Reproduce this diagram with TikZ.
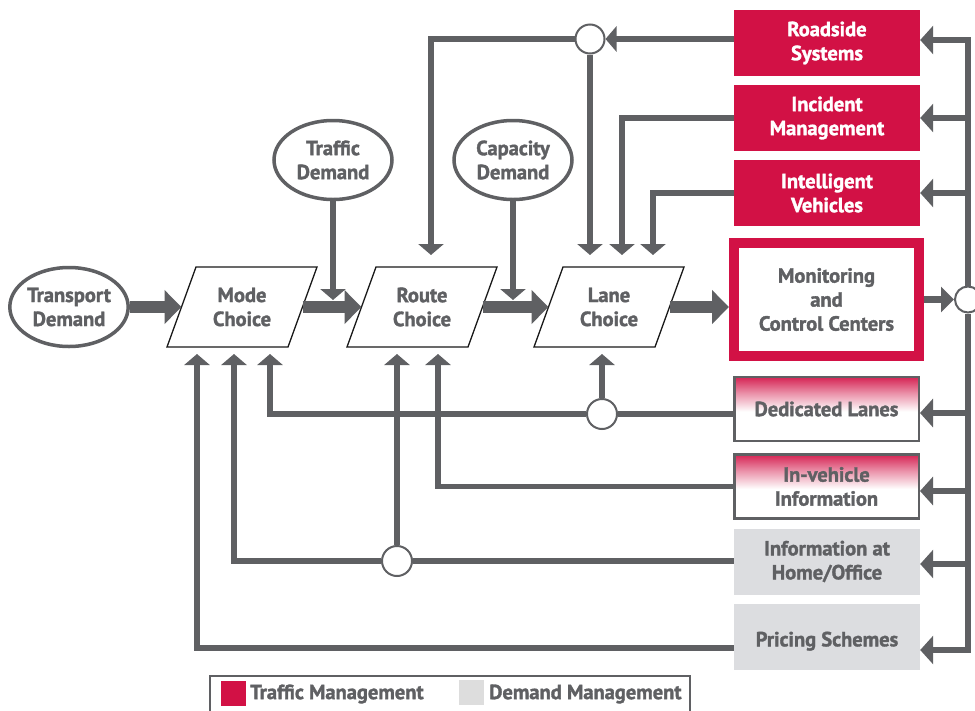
\documentclass[tikz,border=0pt]{standalone}
\usepackage{fontspec}
\setmainfont{PT Sans}[BoldFeatures={FakeBold=1.6}]
\usetikzlibrary{arrows.meta,calc,shapes.geometric}
\definecolor{gr}{RGB}{95,96,99}
\definecolor{tm}{RGB}{210,17,69}
\definecolor{dm}{RGB}{220,221,224}
\definecolor{lg}{RGB}{221,221,221}
\pgfdeclareverticalshading{tmfade}{100bp}{color(0bp)=(white); color(48bp)=(white); color(62bp)=(tm!45!white); color(75bp)=(tm!92!white); color(100bp)=(tm!92!white)}
\begin{document}
\begin{tikzpicture}[x=1pt,y=-1pt,
 lbl/.style={font=\fontsize{20.5}{24}\selectfont\bfseries, align=center, text=gr},
 redbox/.style={lbl, text=white, fill=tm, minimum width=186pt, minimum height=66pt, inner sep=0pt},
 dmbox/.style={lbl, fill=dm, minimum width=186pt, minimum height=66pt, inner sep=0pt},
 gradbox/.style={lbl, draw=gr, line width=2.5pt, fill=white, minimum width=184.5pt, minimum height=64pt, inner sep=0pt,
   path picture={\shade[shading=tmfade] (path picture bounding box.south west) rectangle (path picture bounding box.north east);}},
 oval/.style={lbl, ellipse, draw=gr, line width=3.5pt, minimum width=118pt, minimum height=79pt, inner sep=0pt},
 choice/.style={lbl, minimum width=121pt, minimum height=80pt, inner sep=0pt, outer sep=0pt},
 para/.style={draw=black!90, line width=1.3pt},
 junc/.style={circle, draw=gr, line width=2pt, fill=white, minimum size=30pt, inner sep=0pt},
 ln/.style={draw=gr, line width=5.5pt},
 conn/.style={draw=gr, line width=5.5pt, -{Triangle[length=11pt,width=25pt]}},
 busarr/.style={draw=gr, line width=6pt, -{Triangle[length=13pt,width=28pt]}},
 bigarr/.style={draw=gr, line width=12pt, -{Triangle[length=17pt,width=33pt]}},
]
\path[use as bounding box, fill=white] (0,0) rectangle (975,710);

% left chain
\node[oval] (tr) at (69,307) {Transport\\Demand};
\node[oval] (td) at (333,160) {Traffic\\Demand};
\node[oval] (cd) at (513,160) {Capacity\\Demand};
\node[choice] (mode) at (242,307) {Mode\\Choice};
\node[choice] (route) at (422,307) {Route\\Choice};
\node[choice] (lane) at (609,307) {Lane\\Choice};
\foreach \n in {mode,route,lane}
  \draw[para] ($(\n.south west)+(-14.5,0)$) -- ($(\n.north west)+(14.5,0)$) -- ($(\n.north east)+(14.5,0)$) -- ($(\n.south east)+(-14.5,0)$) -- cycle;

% right column
\node[redbox] (road) at (827,43) {Roadside\\Systems};
\node[redbox] (inc) at (827,118) {Incident\\Management};
\node[redbox] (intv) at (827,193) {Intelligent\\Vehicles};
\node[lbl, draw=tm, line width=10pt, fill=white, minimum width=185pt, minimum height=113pt, inner sep=0pt] (mon) at (826.5,299.5) {Monitoring\\and\\Control Centers};
\node[gradbox] (ded) at (826.5,409) {Dedicated Lanes};
\node[gradbox] (inv) at (826.5,486.5) {In-vehicle\\Information};
\node[dmbox] (home) at (827,561.5) {Information at\\Home/Office};
\node[dmbox, text height=24pt] (pri) at (827,636.5) {Pricing Schemes};

% junctions
\node[junc, minimum size=29pt] (c1) at (590,39) {};
\node[junc] (c2) at (602,414) {};
\node[junc] (c3) at (397,561) {};
\node[junc, minimum size=26pt] (bc) at (968,299.5) {};
\coordinate (bt) at (968,40);
\coordinate (bb) at (968,650);

% main flow
\draw[bigarr] (tr.east) -- (mode.west);
\draw[bigarr] (mode.east) -- (route.west);
\draw[bigarr] (route.east) -- (lane.west);
\draw[bigarr] (lane.east) -- (lane.east -| mon.west);
\draw[conn] (td.south) -- ($(td.south |- mode.east)+(0,-7)$);
\draw[conn] (cd.south) -- ($(cd.south |- route.east)+(0,-7)$);

% bus
\draw[gr, line width=7pt, -{Triangle[length=13pt,width=25pt]}] (mon.east |- bc) -- (bc.west);
\draw[busarr] (bc.north) -- (bt) -- (bt -| road.east);
\draw[busarr] (bc.south) -- (bb) -- (bb -| pri.east);
\draw[busarr] (inc.east -| bt) -- (inc.east);
\draw[busarr] (intv.east -| bt) -- (intv.east);
\coordinate (dedR) at ($(ded.east)+(0,4)$);
\coordinate (invR) at ($(inv.east)+(0,4.5)$);
\coordinate (homeR) at ($(home.east)+(0,2.5)$);
\draw[busarr] (dedR -| bt) -- (dedR);
\draw[busarr] (invR -| bt) -- (invR);
\draw[busarr] (homeR -| bt) -- (homeR);

% top feedback
\draw[conn] (c1 -| road.west) -- (c1.east);
\draw[conn] (c1.west) -| ($(route.north)+(9,-12)$);
\draw[conn] (c1.south) -- ($(lane.north)+(-19,-12)$);
\draw[conn] (inc.west) -| ($(lane.north)+(13,-12)$);
\draw[conn] (intv.west) -| ($(lane.north)+(44,-12)$);

% bottom feedback
\draw[ln] (ded.west |- c2) -- (c2.east);
\draw[conn] (c2.west) -| ($(mode.south)+(28,7)$);
\draw[conn] (c2.north) -- ($(lane.south)+(-7,7)$);
\draw[conn] (inv.west) -| ($(route.south)+(16,7)$);
\draw[ln] (home.west |- c3) -- (c3.east);
\draw[conn] (c3.west) -| ($(mode.south)+(-8,7)$);
\draw[conn] (c3.north) -- ($(route.south)+(-25,7)$);
\draw[conn] ($(pri.west)+(0,11.5)$) -| ($(mode.south)+(-45,7)$);

% legend
\draw[gr, line width=1.3pt] (210,676) rectangle (690,730);
\node[fill=tm, minimum size=25pt, inner sep=0pt] (lr) at (233.5,693.5) {};
\node[lbl, anchor=west, inner sep=0pt] (lt) at (250,694) {Traffic Management};
\node[fill=lg, minimum size=25pt, inner sep=0pt] (lgs) at (471.5,692.5) {};
\node[lbl, anchor=west, inner sep=0pt] (ltd) at (489,694) {Demand Management};
\end{tikzpicture}
\end{document}
